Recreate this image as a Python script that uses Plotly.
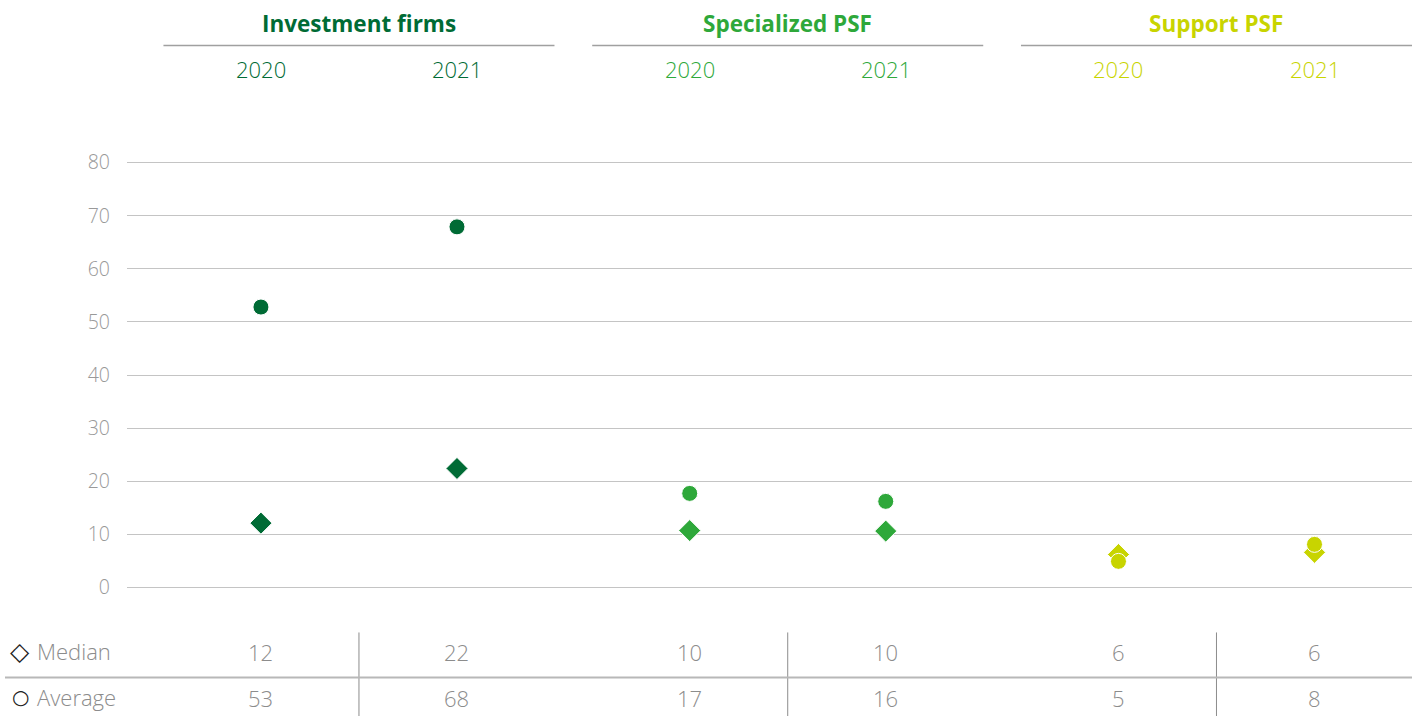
import plotly.graph_objects as go

groups = ["Investment firms", "Specialized PSF", "Support PSF"]
years = ["2020", "2021"]
group_colors = ["#006B35", "#2EA83A", "#C8D400"]

median_values = [12.1, 22.4, 10.7, 10.6, 6.2, 6.6]
average_values = [52.8, 67.9, 17.7, 16.2, 4.9, 8.1]
median_labels = ["12", "22", "10", "10", "6", "6"]
average_labels = ["53", "68", "17", "16", "5", "8"]
y_ticks = [0, 10, 20, 30, 40, 50, 60, 70, 80]

FONT = "Open Sans"
GRAY_TXT = "#8C8C8C"
OFF = 0.2286

xs, cols = [], []
for g in range(len(groups)):
    for j in range(len(years)):
        xs.append(g + (j - 0.5) * 2 * OFF)
        cols.append(group_colors[g])

fig = go.Figure()
fig.add_trace(go.Scatter(
    x=xs, y=median_values, mode="markers", cliponaxis=False,
    marker=dict(symbol="diamond", size=17, color=cols, line=dict(color="white", width=1)),
    showlegend=False, hoverinfo="y"))
fig.add_trace(go.Scatter(
    x=xs, y=average_values, mode="markers", cliponaxis=False,
    marker=dict(symbol="circle", size=16, color=cols, line=dict(color="white", width=1)),
    showlegend=False, hoverinfo="y"))

H = 716
t_px, b_px = 152.4, 716 - 597.6
plot_h = H - t_px - b_px


def ypaper(py):
    return (H - b_px - py) / plot_h


shapes = []
annotations = []
for g, name in enumerate(groups):
    annotations.append(dict(x=g, y=ypaper(24), xref="x", yref="paper", text="<b>" + name + "</b>",
                            showarrow=False, font=dict(family=FONT, size=22.5, color=group_colors[g]),
                            xanchor="center", yanchor="middle"))
    shapes.append(dict(type="line", xref="x", yref="paper", x0=g - 0.456, x1=g + 0.456,
                       y0=ypaper(46), y1=ypaper(46), line=dict(color="#A0A0A0", width=1.5)))
    for j, yr in enumerate(years):
        annotations.append(dict(x=g + (j - 0.5) * 2 * OFF, y=ypaper(70), xref="x", yref="paper", text=yr,
                                showarrow=False, font=dict(family=FONT, size=22, color=group_colors[g], weight=300),
                                xanchor="center", yanchor="middle"))
    # table vertical separators
    shapes.append(dict(type="line", xref="x", yref="paper", x0=g, x1=g,
                       y0=ypaper(632), y1=ypaper(716), line=dict(color="#8C8C8C", width=1)))

# table horizontal line
shapes.append(dict(type="line", xref="paper", yref="paper", x0=(5 - 127) / 1285, x1=1.0,
                   y0=ypaper(677), y1=ypaper(677), line=dict(color="#B8B8B8", width=2)))

for i, x in enumerate(xs):
    annotations.append(dict(x=x, y=ypaper(652), xref="x", yref="paper", text=median_labels[i],
                            showarrow=False, font=dict(family=FONT, size=22, color=GRAY_TXT, weight=300),
                            xanchor="center", yanchor="middle"))
    annotations.append(dict(x=x, y=ypaper(697), xref="x", yref="paper", text=average_labels[i],
                            showarrow=False, font=dict(family=FONT, size=22, color=GRAY_TXT, weight=300),
                            xanchor="center", yanchor="middle"))

annotations.append(dict(x=(35 - 127) / 1285, y=ypaper(651), xref="paper", yref="paper", text="Median",
                        showarrow=False, font=dict(family=FONT, size=22, color=GRAY_TXT, weight=300),
                        xanchor="left", yanchor="middle"))
annotations.append(dict(x=(35 - 127) / 1285, y=ypaper(696), xref="paper", yref="paper", text="Average",
                        showarrow=False, font=dict(family=FONT, size=22, color=GRAY_TXT, weight=300),
                        xanchor="left", yanchor="middle"))
annotations.append(dict(x=(20 - 127) / 1285, y=ypaper(651), xref="paper", yref="paper", text="◇",
                        showarrow=False, font=dict(family="DejaVu Sans", size=25, color="#222222"),
                        xanchor="center", yanchor="middle"))
annotations.append(dict(x=(20 - 127) / 1285, y=ypaper(696), xref="paper", yref="paper", text="○",
                        showarrow=False, font=dict(family="DejaVu Sans", size=20, color="#222222"),
                        xanchor="center", yanchor="middle"))

fig.update_layout(
    width=1417, height=716,
    margin=dict(l=127, r=5, t=t_px, b=b_px, autoexpand=False),
    paper_bgcolor="white", plot_bgcolor="white",
    xaxis=dict(range=[-0.541, 2.456], showgrid=False, zeroline=False, showticklabels=False,
               showline=False, fixedrange=True),
    yaxis=dict(range=[-2, 82], tickvals=y_ticks, showgrid=True, gridcolor="#C4C4C4", gridwidth=1,
               zeroline=False, showline=False, ticks="", ticklabelstandoff=16,
               tickfont=dict(family=FONT, size=19.5, color="#999999", weight=300), fixedrange=True),
    shapes=shapes, annotations=annotations,
    font=dict(family=FONT),
)

fig.write_html("out.html")
